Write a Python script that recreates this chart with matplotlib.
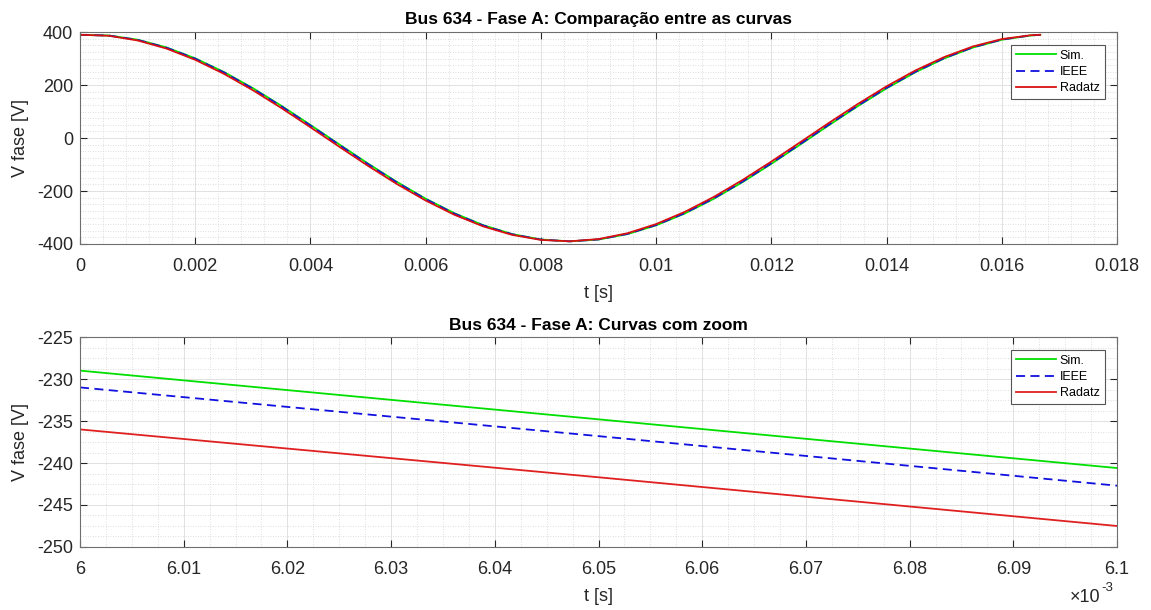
import numpy as np
import matplotlib
matplotlib.use("Agg")
from matplotlib import pyplot as plt
from matplotlib.ticker import AutoMinorLocator, FuncFormatter, MultipleLocator

# sample times (s) for one 60 Hz cycle
t = [0.0, 0.0005, 0.001, 0.0015, 0.002, 0.0025, 0.003, 0.0035, 0.004, 0.0045,
     0.005, 0.0055, 0.006, 0.0065, 0.007, 0.0075, 0.008, 0.0085, 0.009, 0.0095,
     0.01, 0.0105, 0.011, 0.0115, 0.012, 0.0125, 0.013, 0.0135, 0.014, 0.0145,
     0.015, 0.0155, 0.016, 0.0165, 0.016667]

v_sim = [389.2, 387.0, 371.1, 342.0, 300.8, 249.0, 188.3, 121.0, 49.3, -24.0,
         -96.5, -165.6, -228.9, -283.9, -329.0, -362.4, -383.0, -390.0, -383.2, -362.8,
         -329.6, -284.7, -229.6, -166.5, -97.4, -25.0, 48.4, 120.1, 187.4, 248.2,
         300.2, 341.5, 370.8, 386.9, 389.2]

v_ieee = [389.3, 386.7, 370.3, 340.8, 299.3, 247.1, 186.2, 118.7, 47.0, -26.4,
          -98.8, -167.8, -230.8, -285.6, -330.3, -363.3, -383.4, -390.0, -382.7, -361.9,
          -328.3, -283.1, -227.7, -164.3, -95.1, -22.6, 50.8, 122.3, 189.5, 250.1,
          301.7, 342.7, 371.5, 387.2, 389.3]

v_radatz = [389.7, 385.8, 368.2, 337.7, 295.1, 242.1, 180.5, 112.5, 40.6, -32.8,
            -105.1, -173.6, -236.0, -289.9, -333.7, -365.6, -384.6, -389.9, -381.4, -359.5,
            -324.8, -278.5, -222.4, -158.4, -88.8, -16.1, 57.2, 128.4, 195.2, 255.0,
            305.6, 345.7, 373.4, 387.9, 389.7]

# zoomed window 6.0 ms .. 6.1 ms
t_zoom = [0.006, 0.00605, 0.0061]
sim_zoom = [-229.0, -234.8, -240.6]
ieee_zoom = [-231.0, -236.8, -242.7]
radatz_zoom = [-236.0, -241.7, -247.5]

labels = ["Sim.", "IEEE", "Radatz"]

plt.rcParams['font.family'] = ['Liberation Sans', 'DejaVu Sans']
plt.rcParams['axes.unicode_minus'] = False
txt = '#262626'

fig = plt.figure(figsize=(11.51, 6.10), dpi=100)
ax1 = fig.add_axes([0.0695, 0.600, 0.901, 0.3475])
ax2 = fig.add_axes([0.0695, 0.1033, 0.901, 0.3442])


def style(ax):
    ax.tick_params(which='both', direction='in', top=True, right=True,
                   labelsize=13, colors=txt, length=5, width=0.8)
    ax.tick_params(axis='x', pad=10)
    ax.tick_params(axis='y', pad=5)
    ax.tick_params(which='minor', length=0)
    for sp in ax.spines.values():
        sp.set_color('#6e6e6e')
        sp.set_linewidth(0.8)
    ax.grid(which='major', color='#dcdcdc', lw=0.6, ls='-')
    ax.grid(which='minor', color='#d4d4d4', lw=0.6, ls=(0, (1, 2)))
    ax.set_axisbelow(True)
    ax.set_ylabel("V fase [V]", fontsize=13, color=txt)
    ax.set_xlabel("t [s]", fontsize=13, color=txt, labelpad=7)
    leg = ax.legend(loc='upper right', fontsize=9, fancybox=False,
                    edgecolor='#555555', framealpha=1, handlelength=3.2,
                    borderaxespad=1.0, labelspacing=0.35, handletextpad=0.3,
                    borderpad=0.4)
    leg.get_frame().set_linewidth(0.8)
    ax.yaxis.set_label_coords(-0.049, 0.5)


ax1.plot(t, v_sim, color='#00e000', lw=1.3, label=labels[0])
ax1.plot(t, v_ieee, color='#1010e0', lw=1.3, ls=(0, (5, 3)), label=labels[1])
ax1.plot(t, v_radatz, color='#d81010', lw=1.3, label=labels[2])
ax1.set_xlim(0, 0.018)
ax1.set_ylim(-400, 400)
ax1.xaxis.set_major_locator(MultipleLocator(0.002))
ax1.yaxis.set_major_locator(MultipleLocator(200))
ax1.xaxis.set_minor_locator(AutoMinorLocator(5))
ax1.yaxis.set_minor_locator(AutoMinorLocator(8))
ax1.xaxis.set_major_formatter(FuncFormatter(lambda x, p: f"{round(x, 6):g}"))
ax1.set_title("Bus 634 - Fase A: Comparação entre as curvas", fontsize=12.5,
              fontweight='bold', color='black', pad=6)
style(ax1)

ax2.plot(t_zoom, sim_zoom, color='#00e000', lw=1.3, label=labels[0])
ax2.plot(t_zoom, ieee_zoom, color='#1010e0', lw=1.3, ls=(0, (5, 3)), label=labels[1])
ax2.plot(t_zoom, radatz_zoom, color='#e02020', lw=1.3, label=labels[2])
ax2.set_xlim(0.006, 0.0061)
ax2.set_ylim(-250, -225)
ax2.xaxis.set_major_locator(MultipleLocator(0.00001))
ax2.yaxis.set_major_locator(MultipleLocator(5))
ax2.xaxis.set_minor_locator(AutoMinorLocator(4))
ax2.yaxis.set_minor_locator(AutoMinorLocator(4))
ax2.xaxis.set_major_formatter(FuncFormatter(lambda x, p: f"{round(x * 1e3, 4):g}"))
ax2.set_title("Bus 634 - Fase A: Curvas com zoom", fontsize=12.5,
              fontweight='bold', color='black', pad=5)
style(ax2)

# MATLAB-style exponent label
ax2.text(0.9835, -0.24, "×10", transform=ax2.transAxes,
         ha='right', va='center', fontsize=13, color=txt)
ax2.text(0.9845, -0.195, "-3", transform=ax2.transAxes,
         ha='left', va='center', fontsize=9.5, color=txt)

fig.savefig("out.png", dpi=100)
